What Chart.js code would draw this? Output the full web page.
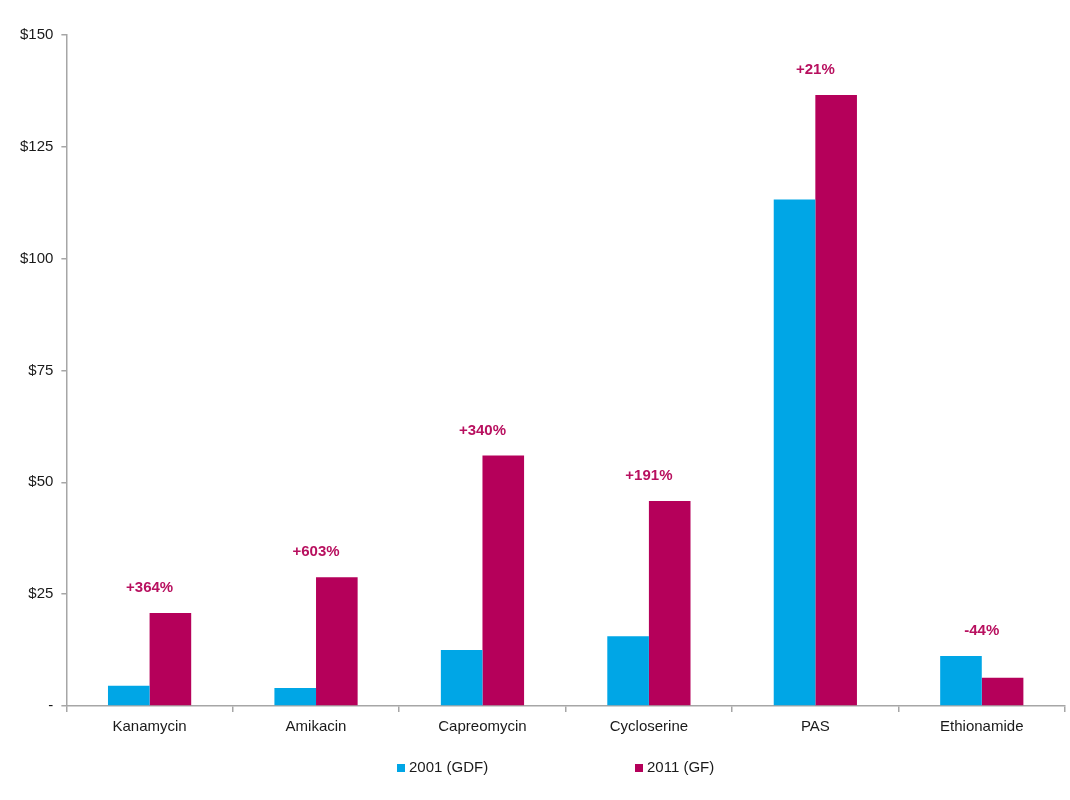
<!DOCTYPE html>
<html>
<head>
<meta charset="utf-8">
<script src="https://cdn.jsdelivr.net/npm/chart.js@4"></script>
<style>
  html, body { margin: 0; padding: 0; background: #fff; }
  #wrap { width: 1070px; height: 800px; position: relative; }
</style>
</head>
<body>
<div id="wrap"><canvas id="prices"></canvas></div>
<script>
var drugs = ["Kanamycin", "Amikacin", "Capreomycin", "Cycloserine", "PAS", "Ethionamide"];
var gdf2001 = [4.5, 4.0, 12.5, 15.6, 113.2, 11.2];
var gf2011 = [20.8, 28.8, 56.0, 45.8, 136.6, 6.3];
var changeLabels = ["+364%", "+603%", "+340%", "+191%", "+21%", "-44%"];

var blue = "#00a6e6";
var magenta = "#b5005a";
var font = "'Liberation Sans', Arial, sans-serif";

// percent change text above each pair of bars
var changeText = {
  id: "changeText",
  afterDatasetsDraw: function (chart) {
    var c = chart.ctx;
    var x = chart.scales.x, y = chart.scales.y;
    c.save();
    c.font = "bold 15px " + font;
    c.fillStyle = "#b8105f";
    c.textAlign = "center";
    c.textBaseline = "middle";
    for (var i = 0; i < drugs.length; i++) {
      var top = y.getPixelForValue(Math.max(gdf2001[i], gf2011[i]));
      c.fillText(changeLabels[i], x.getPixelForValue(i), top - 25);
    }
    c.restore();
  }
};

// legend spread wide under the plot, like the original slide
var wideLegend = {
  id: "wideLegend",
  afterDraw: function (chart) {
    var c = chart.ctx;
    var items = chart.data.datasets;
    var xs = [397, 635];
    c.save();
    c.font = "15px " + font;
    c.textBaseline = "middle";
    c.textAlign = "left";
    for (var i = 0; i < items.length; i++) {
      c.fillStyle = items[i].backgroundColor;
      c.fillRect(xs[i], 764, 8, 8);
      c.fillStyle = "#1a1a1a";
      c.fillText(items[i].label, xs[i] + 12, 768);
    }
    c.restore();
  }
};

var ctx = document.getElementById("prices");
var myChart = new Chart(ctx, {
  type: "bar",
  data: {
    labels: drugs,
    datasets: [
      { label: "2001 (GDF)", data: gdf2001, backgroundColor: blue },
      { label: "2011 (GF)", data: gf2011, backgroundColor: magenta }
    ]
  },
  options: {
    responsive: true,
    maintainAspectRatio: false,
    animation: false,
    datasets: { bar: { categoryPercentage: 0.5, barPercentage: 1.0 } },
    layout: { padding: { top: 35, left: 12, right: 5, bottom: 58 } },
    plugins: {
      tooltip: { enabled: false },
      legend: { display: false }
    },
    scales: {
      x: {
        border: { color: "#a6a6a6", width: 1.5 },
        grid: { offset: true, drawOnChartArea: false, tickLength: 6, color: "#a6a6a6", lineWidth: 1.5 },
        ticks: {
          color: "#1a1a1a",
          padding: 6,
          font: { family: font, size: 15 }
        }
      },
      y: {
        min: 0,
        max: 150,
        border: { color: "#a6a6a6", width: 1.5 },
        grid: { drawOnChartArea: false, tickLength: 5, color: "#a6a6a6", lineWidth: 1.5 },
        ticks: {
          stepSize: 25,
          padding: 8,
          color: "#1a1a1a",
          font: { family: font, size: 15 },
          callback: function (v) { return v === 0 ? "-" : "$" + v; }
        }
      }
    }
  },
  plugins: [changeText, wideLegend]
});
</script>
</body>
</html>
